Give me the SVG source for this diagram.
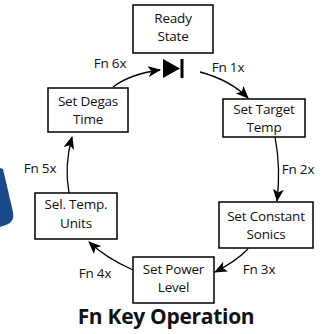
<svg xmlns="http://www.w3.org/2000/svg" width="324" height="334" viewBox="0 0 324 334">
<defs>
<marker id="ah" viewBox="0 0 12 10" refX="11" refY="5" markerWidth="13" markerHeight="11" markerUnits="userSpaceOnUse" orient="auto">
<path d="M0,0 L12,5 L0,10 L3,5 Z" fill="#000"/>
</marker>
</defs>
<style>
.box{fill:#fff;stroke:#000;stroke-width:1.5}
.t{font-family:"Open Sans","Noto Sans",sans-serif;font-size:13.5px;fill:#111;text-anchor:middle;letter-spacing:-0.2px}
.c{fill:none;stroke:#000;stroke-width:1.3;marker-end:url(#ah)}
.title{font-family:"Open Sans","Noto Sans",sans-serif;font-size:21px;font-weight:bold;fill:#111;text-anchor:middle;letter-spacing:-0.3px}
</style>
<rect width="324" height="334" fill="#fff"/>
<path d="M0,168 L3,169 L13,212 Q15,222 6,225 L0,227 Z" fill="#1b4a8c"/>
<g id="ready"><rect class="box" x="133" y="5" width="80" height="48"/><text class="t" x="173" y="23">Ready</text><text class="t" x="173" y="41">State</text></g>
<g id="diode"><path d="M163,59 L180,68.5 L163,78 Z" fill="#000"/><rect x="180.5" y="59" width="3" height="19" fill="#000"/></g>
<g id="target"><rect class="box" x="223" y="99" width="82" height="38"/><text class="t" x="264" y="113.5">Set Target</text><text class="t" x="264" y="132">Temp</text></g>
<g id="sonics"><rect class="box" x="219" y="202" width="94" height="46"/><text class="t" x="266" y="221">Set Constant</text><text class="t" x="266" y="239">Sonics</text></g>
<g id="power"><rect class="box" x="133" y="257" width="81" height="46"/><text class="t" x="173.5" y="274">Set Power</text><text class="t" x="173.5" y="292">Level</text></g>
<g id="units"><rect class="box" x="35" y="193" width="82" height="46"/><text class="t" x="76" y="209">Sel. Temp.</text><text class="t" x="76" y="228">Units</text></g>
<g id="degas"><rect class="box" x="48" y="88" width="80" height="44"/><text class="t" x="88" y="106">Set Degas</text><text class="t" x="88" y="124">Time</text></g>
<g id="connectors">
<path class="c" d="M113,87 Q130,74 160,70"/>
<path class="c" d="M200,72 Q230,80 248,98"/>
<path class="c" d="M275,137 Q281,168 277,201"/>
<path class="c" d="M248,249 Q235,262 215,272"/>
<path class="c" d="M133,270 Q106,258 89,242"/>
<path class="c" d="M69,193 Q64,166 72,137"/>
</g>
<g id="labels">
<text class="t" x="110" y="68">Fn 6x</text>
<text class="t" x="228" y="72">Fn 1x</text>
<text class="t" x="298" y="174">Fn 2x</text>
<text class="t" x="259" y="274">Fn 3x</text>
<text class="t" x="95" y="278">Fn 4x</text>
<text class="t" x="40" y="173">Fn 5x</text>
</g>
<text class="title" x="166" y="324">Fn Key Operation</text>
</svg>
